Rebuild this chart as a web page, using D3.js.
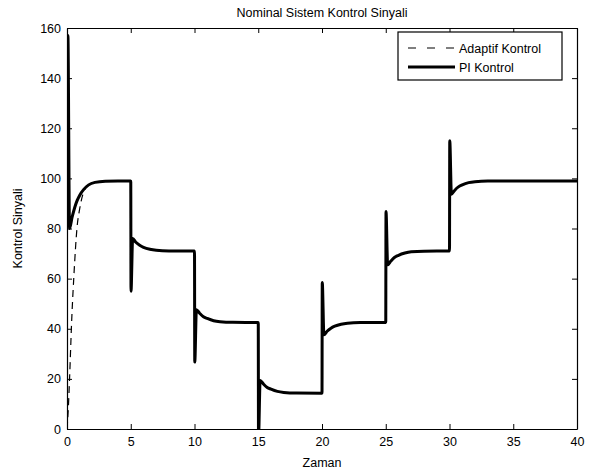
<!DOCTYPE html>
<html>
<head>
<meta charset="utf-8">
<script src="https://cdn.jsdelivr.net/npm/d3@7"></script>
<style>
  body { margin: 0; background: #fff; }
  svg { display: block; font-family: "Liberation Sans", Arial, sans-serif; }
  .axis text { font-size: 12.5px; fill: #000; }
  .axis path, .axis line { stroke: #000; }
</style>
</head>
<body>
<svg id="chart" width="599" height="474"></svg>
<script>
// PI Kontrol (solid)
const piTime = [0, 0.07, 0.2, 0.4, 0.6, 0.8, 1.0, 1.3, 1.7, 2.2, 3, 4, 5,
  5.02, 5.15, 5.4, 5.7, 6.0, 6.5, 7, 8, 10,
  10.02, 10.15, 10.4, 10.7, 11, 11.5, 12, 13, 15,
  15.02, 15.15, 15.4, 15.7, 16, 16.5, 17, 18, 20,
  20.02, 20.15, 20.4, 20.7, 21, 21.5, 22, 23, 25,
  25.02, 25.15, 25.4, 25.7, 26, 26.5, 27, 28, 30,
  30.02, 30.15, 30.4, 30.7, 31, 31.5, 32, 33, 40]
const piValue = [150, 157, 80, 84.5, 88.3, 91.2, 93.3, 95.5, 97.4, 98.4, 98.9, 99, 99,
  55, 76, 74.5, 73.3, 72.5, 71.7, 71.3, 71.05, 71,
  26.7, 47.6, 46.2, 44.8, 44.1, 43.2, 42.8, 42.55, 42.5,
  -3, 19.4, 18.0, 16.6, 15.9, 15.0, 14.6, 14.35, 14.3,
  58.5, 37.6, 39.0, 40.2, 41.0, 41.8, 42.2, 42.45, 42.5,
  86.8, 65.5, 67.0, 68.5, 69.3, 70.2, 70.7, 70.95, 71,
  115, 93.7, 95.2, 96.6, 97.4, 98.3, 98.7, 98.95, 99]

// Adaptif Kontrol (dashed) rise; afterwards it follows the PI curve
const adTime = [0, 0.1, 0.2, 0.37, 0.55, 0.78, 1.0, 1.28]
const adValue = [0, 8, 20, 43.6, 62, 80, 88, 94.2]

const xTicks = [0, 5, 10, 15, 20, 25, 30, 35, 40]
const yTicks = [0, 20, 40, 60, 80, 100, 120, 140, 160]

const margin = {left: 67, right: 22, top: 28, bottom: 45}
const width = 599 - margin.left - margin.right
const height = 474 - margin.top - margin.bottom

const svg = d3.select('#chart')
const g = svg.append('g').attr('transform', 'translate(' + margin.left + ',' + margin.top + ')')

const x = d3.scaleLinear().domain([0, 40]).range([0, width])
const y = d3.scaleLinear().domain([0, 160]).range([height, 0])

svg.append('defs').append('clipPath').attr('id', 'clip')
  .append('rect').attr('width', width).attr('height', height)

const piData = piTime.map((t, i) => ({t: t, v: piValue[i]}))
const adData = adTime.map((t, i) => ({t: t, v: adValue[i]}))
  .concat(piData.filter(d => d.t >= 1.7))

const line = d3.line().x(d => x(d.t)).y(d => y(d.v)).curve(d3.curveMonotoneX)

const plot = g.append('g').attr('clip-path', 'url(#clip)')
plot.append('path').datum(adData)
  .attr('d', line).attr('fill', 'none').attr('stroke', '#000')
  .attr('stroke-width', 1.2).attr('stroke-dasharray', '7,5')
plot.append('path').datum(piData)
  .attr('d', line).attr('fill', 'none').attr('stroke', '#000')
  .attr('stroke-width', 3).attr('stroke-linejoin', 'round')

// axes with inward ticks on all sides
g.append('g').attr('class', 'axis').attr('transform', 'translate(0,' + height + ')')
  .call(d3.axisBottom(x).tickValues(xTicks).tickSizeInner(-5).tickSizeOuter(0).tickPadding(8))
g.append('g').attr('class', 'axis')
  .call(d3.axisLeft(y).tickValues(yTicks).tickSizeInner(-5).tickSizeOuter(0).tickPadding(6))
g.append('g').attr('class', 'axis')
  .call(d3.axisTop(x).tickValues(xTicks).tickSizeInner(-5).tickSizeOuter(0).tickFormat(''))
g.append('g').attr('class', 'axis').attr('transform', 'translate(' + width + ',0)')
  .call(d3.axisRight(y).tickValues(yTicks).tickSizeInner(-5).tickSizeOuter(0).tickFormat(''))
g.selectAll('.axis .domain').attr('stroke-width', 1.2)

// titles
svg.append('text').attr('x', margin.left + width / 2).attr('y', 17)
  .attr('text-anchor', 'middle').style('font-size', '12.5px').text('Nominal Sistem Kontrol Sinyali')
svg.append('text').attr('x', margin.left + width / 2).attr('y', 467)
  .attr('text-anchor', 'middle').style('font-size', '12.5px').text('Zaman')
svg.append('text').attr('transform', 'translate(22,' + (margin.top + height / 2) + ') rotate(-90)')
  .attr('text-anchor', 'middle').style('font-size', '12.5px').text('Kontrol Sinyali')

// legend
const lg = svg.append('g').attr('transform', 'translate(398,32)')
lg.append('rect').attr('width', 164).attr('height', 48)
  .attr('fill', '#fff').attr('stroke', '#000').attr('stroke-width', 1.2)
lg.append('line').attr('x1', 10).attr('x2', 57).attr('y1', 16).attr('y2', 16)
  .attr('stroke', '#000').attr('stroke-width', 1.2).attr('stroke-dasharray', '8,11')
lg.append('line').attr('x1', 10).attr('x2', 57).attr('y1', 35).attr('y2', 35)
  .attr('stroke', '#000').attr('stroke-width', 3)
lg.append('text').attr('x', 61).attr('y', 20.5).style('font-size', '12.5px').text('Adaptif Kontrol')
lg.append('text').attr('x', 61).attr('y', 39.5).style('font-size', '12.5px').text('PI Kontrol')
</script>
</body>
</html>
